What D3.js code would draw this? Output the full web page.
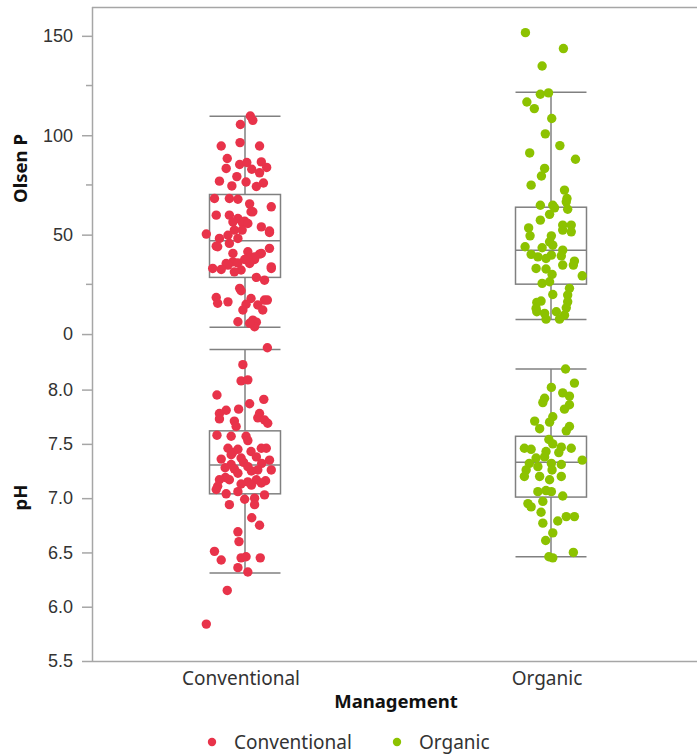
<!DOCTYPE html>
<html>
<head>
<meta charset="utf-8">
<script src="https://cdn.jsdelivr.net/npm/d3@7"></script>
<style>
  body { margin: 0; background: #fff; }
  svg { display: block; font-family: "Noto Sans", "Open Sans", sans-serif; }
</style>
</head>
<body>
<svg id="chart" width="697" height="755"></svg>
<script>
// categories and colours of the two management groups
const groups = ['Conventional', 'Organic'];
const groupColors = ['#e8334a', '#8cc200'];

// box summaries: [lower whisker, Q1, median, Q3, upper whisker]
const olsenBoxes = [[3.4, 28.5, 46.9, 70.2, 109.5], [7.3, 25.1, 42.2, 63.8, 121.6]];
const phBoxes = [[6.31, 7.04, 7.305, 7.62, 8.37], [6.46, 7.01, 7.33, 7.57, 8.19]];

// tick values
const olsenTicks = [0, 50, 100, 150];
const olsenMinorTicks = [25, 75, 125];
const phTicks = [5.5, 6.0, 6.5, 7.0, 7.5, 8.0];

// points: [jitter (-1..1 of half box width), value]
const olsenConventional = [
  [0.15, 109.7], [0.22, 107.5], [-0.13, 105.4], [-0.67, 94.6], [-0.14, 96.3], [0.41, 94.6],
  [-0.50, 88.3], [0.46, 86.6], [-0.15, 85.3], [0.05, 86.3], [0.61, 83.8], [-0.53, 83.3],
  [0.19, 82.9], [0.41, 81.1], [-0.23, 79.2], [-0.72, 76.9], [0.03, 76.5], [-0.37, 74.5],
  [0.52, 76.0], [0.32, 74.2], [-0.86, 68.2], [-0.44, 68.2], [-0.20, 67.8], [0.13, 65.5],
  [0.74, 64.0], [0.17, 61.5], [0.22, 61.5], [-0.81, 59.8], [-0.44, 59.8], [-0.20, 58.1],
  [-0.01, 56.8], [-0.07, 56.0], [-0.34, 56.4], [0.08, 55.6], [0.46, 53.9], [-0.30, 52.3],
  [-0.08, 52.3], [0.69, 51.8], [-1.09, 50.3], [0.69, 51.1], [-0.48, 49.7], [-0.72, 48.1],
  [-0.20, 48.1], [-0.81, 44.2], [-0.77, 43.9], [-0.44, 45.6], [0.69, 43.1], [-0.34, 40.6],
  [0.08, 41.4], [0.41, 40.2], [0.46, 40.6], [0.27, 37.5], [0.27, 38.8], [0.08, 38.0],
  [-0.01, 37.5], [-0.34, 36.3], [-0.20, 35.8], [-0.53, 35.5], [-0.48, 34.7], [0.13, 35.5],
  [-0.67, 32.5], [-0.91, 33.0], [0.74, 33.0], [0.74, 33.8], [-0.11, 32.2], [-0.30, 31.3],
  [0.32, 28.5], [0.55, 27.1], [-0.15, 23.0], [-0.11, 21.8], [-0.81, 18.4], [-0.77, 15.5],
  [-0.48, 16.2], [0.17, 17.9], [0.55, 17.1], [0.63, 17.1], [0.03, 15.0], [-0.06, 12.1],
  [0.36, 14.6], [0.50, 12.1], [-0.20, 6.2], [0.22, 7.0], [0.32, 6.0], [0.27, 3.7], [0.13, 5.4]
];
const olsenOrganic = [
  [-0.72, 151.6], [0.35, 143.6], [-0.25, 134.8], [-0.30, 120.6], [-0.07, 121.3], [-0.68, 116.7],
  [-0.47, 113.4], [0.02, 108.4], [-0.16, 100.7], [0.25, 94.8], [-0.60, 91.1], [0.69, 87.9],
  [-0.18, 83.3], [-0.27, 79.5], [-0.56, 74.9], [0.38, 72.4], [0.45, 68.2], [-0.30, 64.8],
  [0.05, 64.8], [0.43, 66.5], [0.10, 63.5], [0.47, 62.8], [-0.04, 60.2], [-0.30, 57.3],
  [-0.63, 53.4], [0.33, 54.8], [0.57, 54.8], [0.33, 52.3], [0.57, 51.4], [-0.59, 49.4],
  [0.01, 49.4], [-0.04, 46.4], [0.05, 44.7], [-0.73, 43.9], [-0.25, 43.4], [0.33, 42.2],
  [-0.56, 40.1], [-0.37, 38.8], [0.01, 39.7], [0.29, 39.3], [-0.14, 38.0], [0.66, 36.7],
  [0.33, 34.7], [0.63, 34.7], [-0.42, 33.0], [-0.14, 32.7], [0.03, 30.0], [0.88, 29.3],
  [-0.25, 25.5], [-0.04, 26.3], [0.52, 23.0], [0.47, 19.6], [0.05, 19.9], [-0.28, 16.6],
  [-0.40, 15.9], [0.47, 16.2], [0.43, 13.2], [-0.40, 11.2], [-0.18, 10.4], [0.15, 11.2],
  [0.38, 9.5], [-0.14, 7.5], [0.24, 7.5], [-0.42, 12.9]
];
const phConventional = [
  [0.63, 8.385], [-0.06, 8.23], [-0.11, 8.08], [0.08, 8.09], [-0.79, 7.95], [0.53, 7.91],
  [0.13, 7.87], [-0.18, 7.82], [-0.53, 7.81], [-0.72, 7.78], [-0.72, 7.73], [0.41, 7.78],
  [0.36, 7.74], [0.55, 7.72], [0.64, 7.69], [-0.30, 7.71], [-0.25, 7.66], [-0.79, 7.58],
  [-0.39, 7.57], [0.03, 7.57], [0.08, 7.53], [0.46, 7.46], [0.60, 7.46], [-0.48, 7.46],
  [-0.20, 7.45], [0.17, 7.43], [-0.35, 7.42], [-0.39, 7.40], [0.32, 7.38], [-0.67, 7.36],
  [-0.11, 7.37], [0.69, 7.35], [-0.04, 7.33], [0.47, 7.32], [-0.39, 7.31], [0.08, 7.29],
  [-0.56, 7.28], [-0.30, 7.27], [0.36, 7.26], [0.74, 7.26], [0.18, 7.25], [-0.20, 7.23],
  [-0.55, 7.19], [-0.72, 7.17], [-0.44, 7.17], [0.08, 7.15], [0.32, 7.17], [0.58, 7.16],
  [0.46, 7.14], [-0.11, 7.13], [0.18, 7.12], [-0.77, 7.11], [-0.81, 7.08], [-0.53, 7.04],
  [-0.20, 7.06], [0.55, 7.03], [-0.01, 6.99], [0.27, 7.00], [-0.44, 6.94], [0.27, 6.94],
  [0.19, 6.82], [0.41, 6.75], [-0.20, 6.69], [-0.17, 6.60], [-0.86, 6.51], [-0.67, 6.43],
  [-0.11, 6.45], [0.03, 6.46], [0.43, 6.45], [-0.20, 6.36], [0.08, 6.32], [-0.50, 6.15],
  [-1.09, 5.84]
];
const phOrganic = [
  [0.41, 8.19], [0.66, 8.06], [0.01, 8.02], [0.33, 7.97], [0.52, 7.94], [-0.18, 7.92],
  [-0.23, 7.88], [0.52, 7.86], [0.38, 7.82], [0.05, 7.75], [-0.46, 7.71], [-0.04, 7.70],
  [0.52, 7.66], [-0.32, 7.64], [0.43, 7.62], [-0.06, 7.54], [0.05, 7.50], [-0.75, 7.46],
  [-0.56, 7.45], [0.29, 7.47], [0.57, 7.46], [-0.14, 7.43], [0.22, 7.42], [-0.42, 7.37],
  [-0.18, 7.38], [0.88, 7.35], [-0.61, 7.32], [0.01, 7.32], [0.29, 7.31], [-0.37, 7.29],
  [-0.70, 7.26], [0.03, 7.26], [-0.75, 7.20], [-0.32, 7.20], [0.29, 7.20], [-0.04, 7.17],
  [-0.37, 7.06], [-0.14, 7.07], [0.01, 7.06], [-0.23, 6.97], [0.33, 7.02], [-0.65, 6.95],
  [-0.56, 6.92], [-0.28, 6.87], [-0.23, 6.77], [0.19, 6.79], [0.43, 6.83], [0.66, 6.83],
  [0.05, 6.68], [-0.15, 6.61], [0.63, 6.50], [-0.06, 6.46], [0.05, 6.45]
];

const svg = d3.select('#chart');
const plotLeft = 92, plotRight = 704, plotTop = 7, plotSplit = 344, plotBottom = 661;
const axisColor = '#a6a6a6', boxColor = '#808080', textColor = '#333';

let x = d3.scaleBand().domain(groups).range([plotLeft, plotRight]);
let boxHalf = x.bandwidth() * 0.116;
let jitter = d3.scaleLinear().domain([-1, 1]).range([-boxHalf, boxHalf]);
let color = d3.scaleOrdinal().domain(groups).range(groupColors);

let yOlsen = d3.scaleLinear().domain([-5, 164.5]).range([plotSplit, plotTop]);
let yPh = d3.scaleLinear().domain([5.5, 8.42]).range([plotBottom, plotSplit]);

//top frame line
svg.append('line').attr('x1', plotLeft).attr('x2', 697).attr('y1', plotTop + 0.5).attr('y2', plotTop + 0.5)
  .attr('stroke', axisColor).attr('stroke-width', 1.5);

//draws one panel: y axis, boxes and points
function panel(y, ticks, minor, boxes, points, fmt) {
  let axis = d3.axisLeft(y).tickValues(ticks).tickSize(10).tickPadding(9).tickFormat(fmt);
  let g = svg.append('g').attr('transform', `translate(${plotLeft},0)`).call(axis);
  g.select('.domain').remove();
  g.selectAll('line').attr('stroke', axisColor).attr('stroke-width', 1.5);
  g.selectAll('text').attr('fill', textColor).style('font-size', '18px');
  g.selectAll('.minor').data(minor).join('line').attr('class', 'minor')
    .attr('x1', -6).attr('x2', 0).attr('y1', d => y(d)).attr('y2', d => y(d))
    .attr('stroke', axisColor).attr('stroke-width', 1.5);

  groups.forEach((grp, i) => {
    let cx = x(grp) + x.bandwidth() / 2;
    let b = boxes[i];
    let bg = svg.append('g').attr('fill', 'none').attr('stroke', boxColor).attr('stroke-width', 1.5);
    bg.append('line').attr('x1', cx).attr('x2', cx).attr('y1', y(b[0])).attr('y2', y(b[1]));
    bg.append('line').attr('x1', cx).attr('x2', cx).attr('y1', y(b[3])).attr('y2', y(b[4]));
    bg.append('rect').attr('x', cx - boxHalf).attr('width', boxHalf * 2)
      .attr('y', y(b[3])).attr('height', y(b[1]) - y(b[3]));
    [b[0], b[2], b[4]].forEach(v => {
      bg.append('line').attr('x1', cx - boxHalf).attr('x2', cx + boxHalf).attr('y1', y(v)).attr('y2', y(v));
    });
    svg.append('g').selectAll('circle').data(points[i]).join('circle')
      .attr('cx', d => cx + jitter(d[0]))
      .attr('cy', d => y(d[1]))
      .attr('r', 4.7)
      .attr('fill', color(grp));
  });
}

panel(yOlsen, olsenTicks, olsenMinorTicks, olsenBoxes, [olsenConventional, olsenOrganic], d3.format('d'));
panel(yPh, phTicks, [], phBoxes, [phConventional, phOrganic], d3.format('.1f'));

//left and bottom axis lines
svg.append('line').attr('x1', plotLeft + 0.5).attr('x2', plotLeft + 0.5).attr('y1', plotTop).attr('y2', plotBottom)
  .attr('stroke', axisColor).attr('stroke-width', 1.5);
svg.append('line').attr('x1', plotLeft).attr('x2', 697).attr('y1', plotBottom + 0.5).attr('y2', plotBottom + 0.5)
  .attr('stroke', axisColor).attr('stroke-width', 1.5);

//category labels
svg.append('g').selectAll('text').data(groups).join('text')
  .attr('x', d => x(d) + x.bandwidth() / 2 - 4)
  .attr('y', 685)
  .attr('text-anchor', 'middle')
  .attr('fill', textColor)
  .style('font-size', '19px')
  .text(d => d);

//axis titles
svg.append('text').text('Management').attr('x', 396).attr('y', 708).attr('text-anchor', 'middle')
  .style('font-weight', 'bold').style('font-size', '18.5px').attr('fill', '#111');
svg.append('text').text('Olsen P').attr('text-anchor', 'middle')
  .attr('transform', `translate(27,${(plotTop + plotSplit) / 2 - 7})rotate(-90)`)
  .style('font-weight', 'bold').style('font-size', '18.5px').attr('fill', '#111');
svg.append('text').text('pH').attr('text-anchor', 'middle')
  .attr('transform', `translate(27,${(plotSplit + plotBottom) / 2 - 5})rotate(-90)`)
  .style('font-weight', 'bold').style('font-size', '18.5px').attr('fill', '#111');

//legend
let legendX = [212, 397];
let legend = svg.append('g').selectAll('g').data(groups).join('g')
  .attr('transform', (d, i) => `translate(${legendX[i]},742)`);
legend.append('circle').attr('r', 4.2).attr('fill', d => color(d));
legend.append('text').attr('x', 22).attr('y', 6.5).attr('fill', textColor)
  .style('font-size', '19px').text(d => d);
</script>
</body>
</html>
